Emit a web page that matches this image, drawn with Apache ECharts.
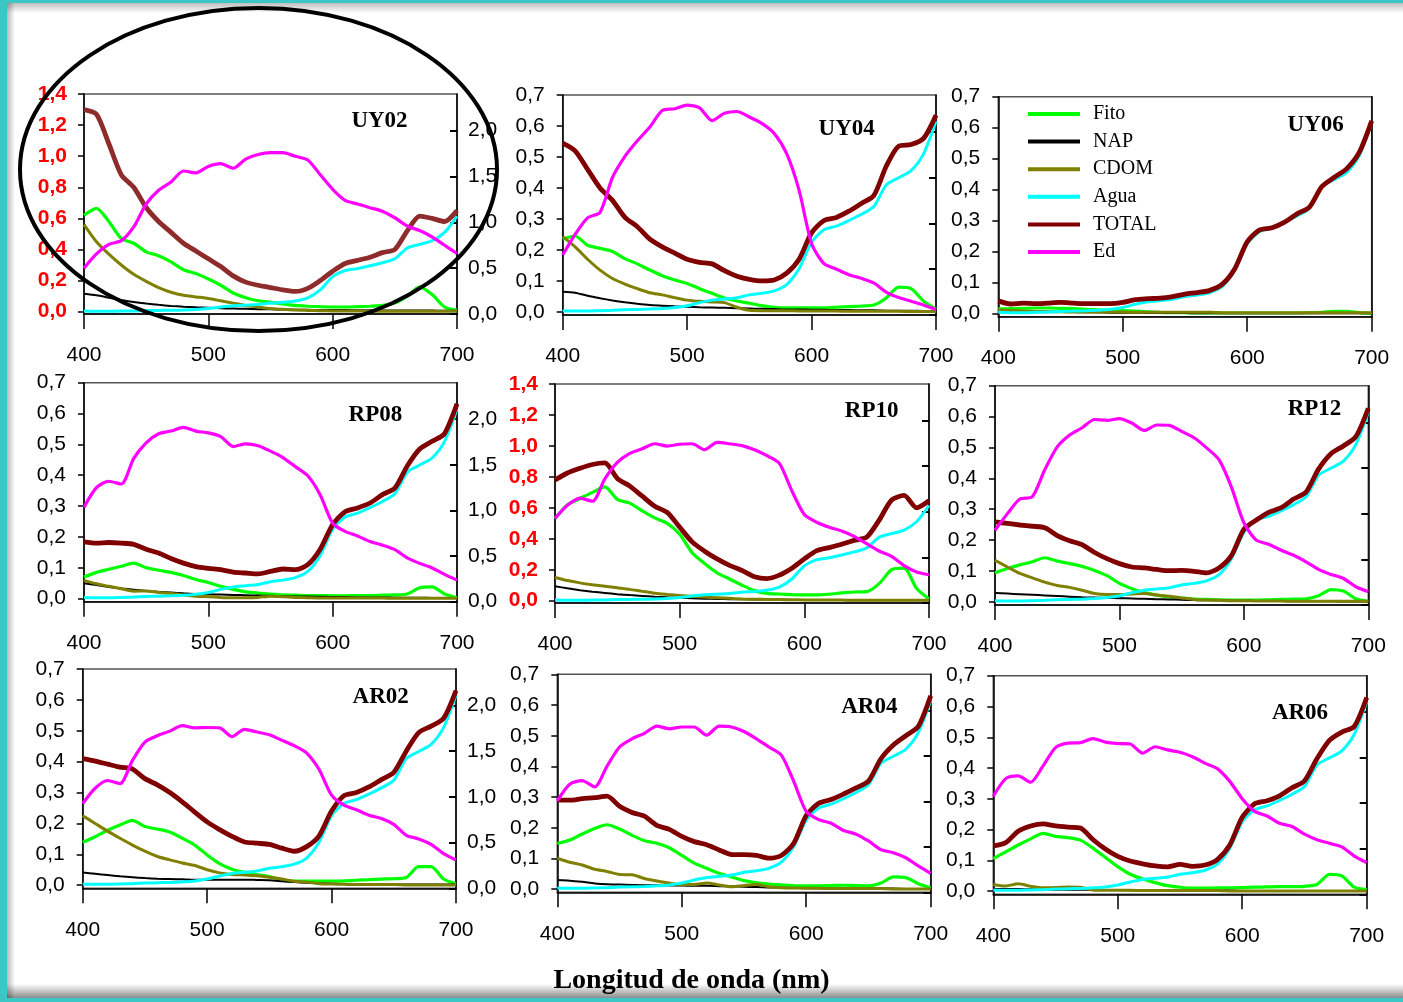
<!DOCTYPE html>
<html><head><meta charset="utf-8">
<script src="https://cdn.jsdelivr.net/npm/echarts@6/dist/echarts.min.js"></script>
<style>html,body{margin:0;padding:0;background:#fff}#c{width:1403px;height:1002px}</style>
</head><body><div id="c"></div>
<script>
// ---------- DATA ----------
const wavelengths = [400,410,420,430,440,450,460,470,480,490,500,510,520,530,540,550,560,570,580,590,600,610,620,630,640,650,660,670,680,690,700];
const xTicks = [400,500,600,700];
const leftTicksSmall = [0,0.1,0.2,0.3,0.4,0.5,0.6,0.7];
const leftTicksBig = [0,0.2,0.4,0.6,0.8,1.0,1.2,1.4];
const rightTicks = [0,0.5,1.0,1.5,2.0];
const seriesNames = ['Fito','NAP','CDOM','Agua','TOTAL','Ed'];
const panelNames = ['UY02','UY04','UY06','RP08','RP10','RP12','AR02','AR04','AR06'];
const xTitle = 'Longitud de onda (nm)';

const agua = [0.004,0.003,0.003,0.004,0.005,0.007,0.008,0.009,0.011,0.014,0.02,0.03,0.038,0.042,0.046,0.055,0.06,0.068,0.088,0.14,0.225,0.265,0.277,0.295,0.315,0.34,0.41,0.433,0.456,0.51,0.615];

const uy02_fito = [0.62,0.665,0.58,0.47,0.44,0.385,0.36,0.32,0.27,0.245,0.21,0.17,0.12,0.09,0.07,0.06,0.05,0.04,0.035,0.032,0.03,0.03,0.032,0.035,0.04,0.055,0.10,0.16,0.11,0.03,0.01];
const uy02_nap = [0.115,0.105,0.09,0.075,0.062,0.052,0.044,0.037,0.032,0.028,0.025,0.022,0.02,0.018,0.016,0.015,0.014,0.013,0.012,0.011,0.01,0.01,0.009,0.009,0.008,0.008,0.007,0.007,0.007,0.006,0.006];
const uy02_cdom = [0.56,0.45,0.37,0.30,0.24,0.195,0.155,0.125,0.105,0.095,0.085,0.07,0.055,0.04,0.03,0.02,0.015,0.01,0.008,0.006,0.005,0.004,0.004,0.003,0.003,0.003,0.003,0.002,0.002,0.002,0.002];
const uy02_total = [1.30,1.27,1.08,0.88,0.80,0.67,0.58,0.51,0.44,0.39,0.34,0.29,0.23,0.19,0.17,0.155,0.14,0.13,0.15,0.20,0.26,0.31,0.33,0.35,0.38,0.40,0.52,0.615,0.60,0.58,0.65];
const uy02_ed = [0.50,0.655,0.76,0.80,0.95,1.20,1.35,1.44,1.56,1.54,1.61,1.64,1.59,1.69,1.74,1.76,1.76,1.72,1.68,1.52,1.36,1.24,1.20,1.16,1.12,1.05,0.96,0.91,0.84,0.75,0.66];

const uy04_fito = [0.235,0.245,0.215,0.205,0.195,0.172,0.155,0.135,0.117,0.103,0.092,0.075,0.06,0.045,0.035,0.028,0.02,0.015,0.013,0.013,0.013,0.013,0.015,0.017,0.019,0.022,0.045,0.08,0.075,0.035,0.008];
const uy04_nap = [0.065,0.062,0.052,0.044,0.037,0.031,0.026,0.022,0.02,0.018,0.017,0.015,0.014,0.013,0.012,0.011,0.01,0.009,0.008,0.008,0.007,0.007,0.006,0.006,0.005,0.005,0.004,0.004,0.004,0.003,0.003];
const uy04_cdom = [0.243,0.21,0.17,0.135,0.108,0.09,0.075,0.062,0.055,0.046,0.038,0.034,0.032,0.03,0.015,0.005,0.004,0.004,0.004,0.003,0.003,0.003,0.003,0.002,0.002,0.002,0.002,0.002,0.001,0.001,0.001];
const uy04_total = [0.545,0.52,0.46,0.40,0.36,0.305,0.275,0.235,0.21,0.19,0.17,0.16,0.155,0.133,0.115,0.105,0.10,0.103,0.125,0.17,0.255,0.295,0.305,0.325,0.35,0.375,0.47,0.535,0.54,0.56,0.635];
const uy04_ed = [0.655,0.88,1.06,1.12,1.50,1.73,1.90,2.05,2.23,2.25,2.29,2.26,2.12,2.2,2.22,2.16,2.09,1.98,1.76,1.36,0.78,0.56,0.50,0.44,0.40,0.35,0.25,0.19,0.15,0.11,0.06];

const uy06_fito = [0.015,0.016,0.017,0.018,0.018,0.017,0.016,0.014,0.012,0.011,0.01,0.008,0.006,0.004,0.003,0.003,0.002,0.002,0.002,0.002,0.002,0.002,0.002,0.002,0.002,0.003,0.004,0.007,0.007,0.003,0.001];
const uy06_nap = [0.01,0.009,0.008,0.007,0.006,0.005,0.005,0.004,0.004,0.003,0.003,0.003,0.002,0.002,0.002,0.002,0.001,0.001,0.001,0.001,0.001,0.001,0.001,0.001,0.001,0.001,0.001,0.001,0.001,0.001,0.001];
const uy06_cdom = [0.012,0.01,0.008,0.007,0.006,0.006,0.005,0.005,0.005,0.005,0.005,0.004,0.004,0.004,0.004,0.004,0.004,0.004,0.003,0.003,0.003,0.003,0.003,0.003,0.003,0.003,0.003,0.003,0.003,0.003,0.003];
const uy06_total = [0.041,0.031,0.034,0.032,0.034,0.036,0.034,0.032,0.032,0.032,0.036,0.045,0.048,0.05,0.055,0.063,0.068,0.075,0.095,0.145,0.232,0.27,0.277,0.295,0.322,0.344,0.41,0.44,0.468,0.52,0.622];

const rp08_fito = [0.07,0.085,0.095,0.105,0.115,0.10,0.092,0.085,0.075,0.062,0.052,0.04,0.03,0.022,0.018,0.015,0.012,0.011,0.01,0.01,0.009,0.009,0.01,0.01,0.011,0.012,0.015,0.035,0.038,0.015,0.003];
const rp08_nap = [0.05,0.044,0.038,0.033,0.029,0.025,0.022,0.02,0.017,0.015,0.014,0.013,0.012,0.011,0.01,0.009,0.008,0.007,0.007,0.006,0.005,0.005,0.004,0.004,0.004,0.003,0.003,0.003,0.002,0.002,0.002];
const rp08_cdom = [0.059,0.048,0.04,0.032,0.024,0.025,0.02,0.017,0.012,0.008,0.006,0.004,0.003,0.003,0.004,0.008,0.006,0.004,0.003,0.002,0.002,0.002,0.002,0.002,0.002,0.001,0.001,0.001,0.001,0.001,0.001];
const rp08_total = [0.184,0.18,0.182,0.18,0.176,0.16,0.148,0.13,0.115,0.104,0.098,0.094,0.086,0.083,0.08,0.088,0.096,0.094,0.11,0.16,0.24,0.282,0.294,0.31,0.337,0.358,0.43,0.485,0.51,0.535,0.632];
const rp08_ed = [1.036,1.25,1.32,1.29,1.57,1.74,1.84,1.87,1.91,1.87,1.85,1.81,1.70,1.73,1.71,1.65,1.58,1.48,1.38,1.17,0.86,0.77,0.72,0.66,0.62,0.57,0.48,0.42,0.37,0.30,0.236];

const rp10_fito = [0.53,0.62,0.66,0.70,0.735,0.655,0.63,0.58,0.535,0.50,0.43,0.31,0.24,0.18,0.14,0.10,0.065,0.047,0.043,0.039,0.037,0.037,0.042,0.05,0.056,0.058,0.11,0.20,0.21,0.08,0.011];
const rp10_nap = [0.093,0.08,0.068,0.058,0.05,0.042,0.036,0.031,0.026,0.022,0.019,0.016,0.013,0.011,0.01,0.009,0.008,0.007,0.006,0.005,0.005,0.004,0.004,0.004,0.003,0.003,0.003,0.002,0.002,0.002,0.002];
const rp10_cdom = [0.15,0.13,0.115,0.103,0.093,0.083,0.073,0.06,0.048,0.04,0.033,0.028,0.023,0.019,0.015,0.011,0.009,0.008,0.007,0.006,0.005,0.005,0.004,0.004,0.003,0.003,0.003,0.002,0.002,0.002,0.002];
const rp10_total = [0.78,0.825,0.855,0.88,0.89,0.79,0.74,0.675,0.61,0.57,0.475,0.38,0.32,0.27,0.228,0.195,0.155,0.143,0.165,0.21,0.27,0.323,0.343,0.365,0.39,0.41,0.52,0.65,0.68,0.60,0.646];
const rp10_ed = [0.927,1.07,1.15,1.115,1.36,1.54,1.64,1.69,1.745,1.72,1.74,1.745,1.68,1.76,1.745,1.725,1.68,1.615,1.53,1.23,0.97,0.885,0.83,0.79,0.73,0.65,0.57,0.51,0.41,0.34,0.31];

const rp12_fito = [0.094,0.108,0.12,0.13,0.143,0.132,0.124,0.115,0.102,0.085,0.06,0.043,0.03,0.022,0.016,0.012,0.009,0.008,0.007,0.006,0.006,0.006,0.007,0.008,0.009,0.01,0.02,0.04,0.035,0.01,0.002];
const rp12_nap = [0.029,0.027,0.025,0.023,0.021,0.019,0.017,0.015,0.014,0.013,0.012,0.011,0.01,0.009,0.008,0.007,0.006,0.005,0.005,0.004,0.004,0.003,0.003,0.003,0.002,0.002,0.002,0.002,0.001,0.001,0.001];
const rp12_cdom = [0.135,0.113,0.092,0.078,0.064,0.053,0.047,0.038,0.027,0.024,0.024,0.026,0.027,0.022,0.018,0.013,0.008,0.006,0.005,0.004,0.004,0.003,0.003,0.003,0.002,0.002,0.002,0.002,0.002,0.002,0.002];
const rp12_total = [0.259,0.254,0.249,0.245,0.24,0.215,0.198,0.185,0.16,0.14,0.124,0.113,0.11,0.105,0.101,0.102,0.099,0.094,0.11,0.15,0.235,0.265,0.29,0.305,0.333,0.356,0.43,0.48,0.505,0.535,0.627];
const rp12_ed = [0.818,1.0,1.16,1.185,1.48,1.73,1.86,1.94,2.03,2.02,2.04,1.99,1.91,1.97,1.965,1.90,1.83,1.72,1.59,1.29,0.90,0.71,0.665,0.6,0.545,0.473,0.39,0.335,0.29,0.2,0.145];

const ar02_fito = [0.139,0.157,0.178,0.195,0.21,0.19,0.182,0.172,0.152,0.13,0.098,0.07,0.052,0.042,0.034,0.028,0.017,0.013,0.013,0.013,0.013,0.014,0.016,0.018,0.02,0.021,0.025,0.06,0.06,0.02,0.005];
const ar02_nap = [0.041,0.037,0.033,0.029,0.026,0.023,0.021,0.02,0.019,0.018,0.018,0.018,0.018,0.018,0.017,0.016,0.013,0.01,0.008,0.006,0.005,0.004,0.004,0.003,0.003,0.003,0.002,0.002,0.002,0.002,0.002];
const ar02_cdom = [0.225,0.2,0.175,0.152,0.13,0.11,0.093,0.082,0.072,0.064,0.05,0.04,0.035,0.033,0.031,0.026,0.02,0.013,0.01,0.005,0.004,0.003,0.002,0.002,0.002,0.002,0.001,0.001,0.001,0.001,0.001];
const ar02_total = [0.41,0.402,0.392,0.382,0.376,0.345,0.325,0.30,0.27,0.237,0.205,0.18,0.158,0.14,0.136,0.132,0.12,0.11,0.125,0.16,0.24,0.29,0.30,0.318,0.342,0.365,0.434,0.494,0.515,0.54,0.63];
const ar02_ed = [0.927,1.095,1.18,1.145,1.40,1.60,1.67,1.72,1.78,1.755,1.76,1.755,1.66,1.74,1.71,1.68,1.62,1.56,1.48,1.30,1.02,0.91,0.86,0.80,0.765,0.70,0.58,0.54,0.48,0.38,0.31];

const ar04_fito = [0.149,0.16,0.18,0.198,0.21,0.196,0.176,0.158,0.15,0.135,0.11,0.085,0.068,0.052,0.04,0.028,0.021,0.017,0.014,0.012,0.011,0.011,0.012,0.013,0.012,0.011,0.02,0.04,0.038,0.018,0.005];
const ar04_nap = [0.03,0.028,0.024,0.019,0.016,0.015,0.014,0.013,0.013,0.012,0.012,0.011,0.011,0.01,0.009,0.008,0.007,0.006,0.005,0.004,0.004,0.003,0.003,0.003,0.002,0.002,0.002,0.002,0.001,0.001,0.001];
const ar04_cdom = [0.101,0.088,0.079,0.065,0.058,0.048,0.047,0.035,0.027,0.02,0.015,0.015,0.02,0.014,0.008,0.012,0.015,0.008,0.005,0.004,0.003,0.003,0.002,0.002,0.002,0.002,0.002,0.001,0.001,0.001,0.001];
const ar04_total = [0.291,0.29,0.295,0.298,0.303,0.27,0.25,0.238,0.208,0.195,0.172,0.155,0.145,0.128,0.113,0.113,0.11,0.101,0.11,0.15,0.24,0.28,0.292,0.31,0.33,0.352,0.425,0.47,0.5,0.53,0.63];
const ar04_ed = [1.007,1.19,1.23,1.16,1.39,1.60,1.69,1.75,1.83,1.80,1.82,1.82,1.73,1.83,1.82,1.77,1.69,1.60,1.51,1.22,0.89,0.80,0.76,0.68,0.64,0.565,0.47,0.436,0.38,0.29,0.207];

const ar06_fito = [0.106,0.128,0.15,0.17,0.188,0.178,0.174,0.166,0.14,0.11,0.08,0.055,0.04,0.028,0.018,0.013,0.01,0.01,0.011,0.011,0.012,0.013,0.014,0.015,0.015,0.016,0.022,0.055,0.05,0.013,0.005];
const ar06_nap = [0.008,0.007,0.007,0.006,0.006,0.005,0.005,0.005,0.004,0.004,0.004,0.003,0.003,0.003,0.003,0.002,0.002,0.002,0.002,0.002,0.001,0.001,0.001,0.001,0.001,0.001,0.001,0.001,0.001,0.001,0.001];
const ar06_cdom = [0.022,0.017,0.024,0.016,0.011,0.012,0.014,0.013,0.004,0.003,0.003,0.003,0.002,0.002,0.002,0.002,0.002,0.002,0.002,0.001,0.001,0.001,0.001,0.001,0.001,0.001,0.001,0.001,0.001,0.001,0.001];
const ar06_total = [0.147,0.158,0.195,0.212,0.219,0.212,0.208,0.205,0.168,0.137,0.113,0.098,0.089,0.082,0.079,0.087,0.081,0.085,0.103,0.15,0.24,0.284,0.294,0.31,0.336,0.358,0.43,0.49,0.517,0.535,0.629];
const ar06_ed = [1.076,1.27,1.30,1.23,1.41,1.61,1.66,1.665,1.71,1.67,1.655,1.65,1.55,1.62,1.585,1.56,1.51,1.44,1.38,1.24,1.05,0.91,0.86,0.78,0.745,0.66,0.60,0.56,0.52,0.42,0.349];

const panelData = [
  [uy02_fito, uy02_nap, uy02_cdom, agua, uy02_total, uy02_ed],
  [uy04_fito, uy04_nap, uy04_cdom, agua, uy04_total, uy04_ed],
  [uy06_fito, uy06_nap, uy06_cdom, agua, uy06_total, null],
  [rp08_fito, rp08_nap, rp08_cdom, agua, rp08_total, rp08_ed],
  [rp10_fito, rp10_nap, rp10_cdom, agua, rp10_total, rp10_ed],
  [rp12_fito, rp12_nap, rp12_cdom, agua, rp12_total, rp12_ed],
  [ar02_fito, ar02_nap, ar02_cdom, agua, ar02_total, ar02_ed],
  [ar04_fito, ar04_nap, ar04_cdom, agua, ar04_total, ar04_ed],
  [ar06_fito, ar06_nap, ar06_cdom, agua, ar06_total, ar06_ed]
];

// ---------- LAYOUT / STYLE ----------
const layout = [
  {l:84,    r:457,    t:94,    b:314,   big:true,  col:0, lab:[379.5,120.7]},
  {l:562.7, r:936,    t:95,    b:315,   big:false, col:1, lab:[846.7,129.3]},
  {l:998.3, r:1371.7, t:96.7,  b:316.7, big:false, col:2, lab:[1315.7,125]},
  {l:84,    r:457,    t:382.7, b:601.7, big:false, col:0, lab:[375.4,415]},
  {l:555,   r:929,    t:384,   b:603,   big:true,  col:1, lab:[871.7,410.7]},
  {l:995,   r:1368.3, t:385.7, b:605,   big:false, col:2, lab:[1314.5,409.3]},
  {l:82.7,  r:456,    t:669,   b:888.3, big:false, col:0, lab:[380.7,696.7]},
  {l:557.3, r:930.7,  t:674.3, b:892.3, big:false, col:1, lab:[869.3,706.7]},
  {l:993.3, r:1366.7, t:675.7, b:894.3, big:false, col:2, lab:[1300,713.3]}
];
const colors = ['#00ff00','#000000','#808000','#00ffff','#800000','#ff00ff'];
const widths = [3.2,2,3,3,4.8,3.2];
const numFont = 'Liberation Sans';
const serif = 'Liberation Serif';
const fmt = v => Number(v).toFixed(1).replace('.', ',');

const grids = [], xAxes = [], yAxes = [], series = [], graphics = [];
layout.forEach((p, i) => {
  grids.push({left:p.l, top:p.t, width:p.r-p.l, height:p.b-p.t, show:true, borderColor:'#555', borderWidth:1.5, containLabel:false});
  xAxes.push({
    type:'value', gridIndex:i, min:400, max:700, interval:100,
    axisLine:{show:true, onZero:false, lineStyle:{color:'#000', width:1.5}},
    axisTick:{show:true, inside:false, length:15, lineStyle:{color:'#000', width:1.5}},
    axisLabel:{show:true, margin:31, fontFamily:numFont, fontSize:21, color:'#000', customValues:xTicks},
    splitLine:{show:false}
  });
  const ticks = p.big ? leftTicksBig : leftTicksSmall;
  yAxes.push({
    type:'value', gridIndex:i, position:'left', min: p.big ? -0.015 : -0.01, max: p.big ? 1.4 : 0.7,
    axisLine:{show:true, onZero:false, lineStyle:{color:'#000', width:1.5}},
    axisTick:{show:true, inside:false, length:6, customValues:ticks, lineStyle:{color:'#000', width:1.5}},
    axisLabel:{show:true, margin: p.big ? 17 : 18, customValues:ticks, formatter:fmt,
      fontFamily:numFont, fontSize:21, fontWeight: p.big ? 'bold' : 'normal', color: p.big ? '#ff0000' : '#000'},
    splitLine:{show:false}
  });
  const hasEd = panelData[i][5] !== null;
  yAxes.push({
    type:'value', gridIndex:i, position:'right', min:0, max:2.4,
    axisLine:{show:true, onZero:false, lineStyle:{color:'#000', width:1.5}},
    axisTick:{show:hasEd, inside:true, length:7, customValues:rightTicks, lineStyle:{color:'#000', width:2}},
    axisLabel:{show: hasEd && p.col === 0, margin:11, customValues:rightTicks, formatter:fmt,
      fontFamily:numFont, fontSize:21, color:'#000'},
    splitLine:{show:false}
  });
  panelData[i].forEach((arr, s) => {
    if (!arr) return;
    series.push({
      type:'line', name:seriesNames[s], xAxisIndex:i, yAxisIndex: s === 5 ? 2*i+1 : 2*i,
      data: wavelengths.map((w, k) => [w, arr[k]]),
      symbol:'none', showSymbol:false, smooth:0.25, silent:true, animation:false,
      lineStyle:{color: (i === 0 && s === 4) ? '#8e2b2b' : colors[s], width:widths[s]},
      itemStyle:{color:colors[s]}, z: 2 + s
    });
  });
  graphics.push({type:'text', x:p.lab[0], y:p.lab[1], z:50,
    style:{text:panelNames[i], font:'bold 23px "' + serif + '"', fill:'#000', align:'center', verticalAlign:'middle'}});
});

// frame / decorations
graphics.push(
  {type:'rect', shape:{x:0, y:0, width:7, height:1002}, style:{fill:'#3cc7c7'}, z:60},
  {type:'rect', shape:{x:7, y:0, width:8, height:1002}, style:{fill:{type:'linear', x:0, y:0, x2:1, y2:0, colorStops:[{offset:0, color:'rgba(0,0,0,0.28)'},{offset:1, color:'rgba(0,0,0,0)'}]}}, z:59},
  {type:'rect', shape:{x:0, y:0, width:1403, height:3}, style:{fill:'#3cc7c7'}, z:60},
  {type:'rect', shape:{x:0, y:3, width:1403, height:10}, style:{fill:{type:'linear', x:0, y:0, x2:0, y2:1, colorStops:[{offset:0, color:'rgba(0,0,0,0.25)'},{offset:1, color:'rgba(0,0,0,0)'}]}}, z:59},
  {type:'rect', shape:{x:0, y:998, width:1403, height:4}, style:{fill:'#3cc7c7'}, z:60},
  {type:'rect', shape:{x:0, y:984, width:1403, height:14}, style:{fill:{type:'linear', x:0, y:0, x2:0, y2:1, colorStops:[{offset:0, color:'rgba(0,0,0,0)'},{offset:1, color:'rgba(0,0,0,0.45)'}]}}, z:59},
  {type:'ellipse', shape:{cx:258.5, cy:169.5, rx:238.5, ry:161.5}, style:{fill:null, stroke:'#000', lineWidth:4}, z:100},
  {type:'text', x:691.5, y:981, z:50,
    style:{text:xTitle, font:'bold 28px "' + serif + '"', fill:'#000', align:'center', verticalAlign:'middle'}}
);

const chart = echarts.init(document.getElementById('c'), null, {renderer:'canvas'});
chart.setOption({
  animation:false,
  backgroundColor:'#fff',
  grid:grids, xAxis:xAxes, yAxis:yAxes, series:series,
  legend:{
    show:true, orient:'vertical', left:1028, top:104, padding:0,
    itemWidth:52, itemHeight:4, itemGap:7.6, icon:'rect', selectedMode:false,
    data:seriesNames,
    textStyle:{fontFamily:serif, fontSize:20, lineHeight:20, color:'#000', padding:[0,0,0,8]}
  },
  graphic:{elements:graphics}
});
</script>
</body></html>
